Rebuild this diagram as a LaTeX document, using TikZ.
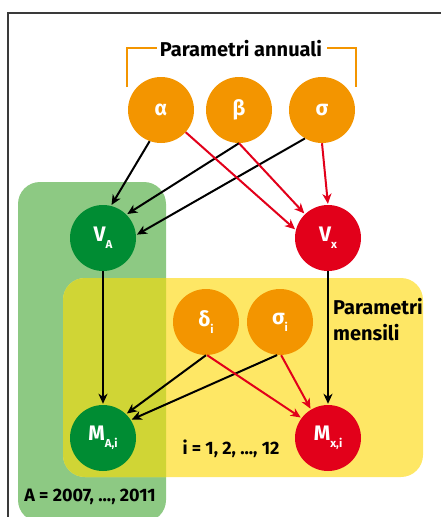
\documentclass[tikz,border=0pt]{standalone}
\usepackage{fontspec}
\setmainfont{Fira Sans}
\usetikzlibrary{arrows.meta}
\definecolor{orng}{HTML}{F39500}
\definecolor{dgreen}{HTML}{008C33}
\definecolor{rred}{HTML}{E2001A}
\definecolor{lgreen}{HTML}{8DC983}
\definecolor{ylw}{HTML}{FEE765}
\definecolor{ovl}{HTML}{D0D535}
\definecolor{framegray}{HTML}{3A3A3A}
\newcommand{\sbs}[1]{\raisebox{-0.6ex}{\fontsize{11.5}{11.5}\selectfont #1}}
\tikzset{
  var/.style={circle, minimum size=66pt, inner sep=0pt, text=white, font=\fontsize{21}{21}\bfseries},
  ora/.style={var, fill=orng},
  grn/.style={var, fill=dgreen},
  red/.style={var, fill=rred},
  blk/.style={line width=2pt, black, -{Stealth[length=10pt,width=9pt,inset=3pt]}, shorten >=1pt},
  rda/.style={line width=2pt, rred, -{Stealth[length=10pt,width=9pt,inset=3pt]}, shorten >=1pt},
  lbl/.style={font=\fontsize{20}{26}\bfseries, inner sep=0pt, text=black},
  rng/.style={lbl, font=\fontsize{18}{24}\bfseries}
}
\begin{document}
\begin{tikzpicture}[x=1pt,y=-1pt]
\useasboundingbox (0,0) rectangle (441,517);
\draw[framegray, line width=1.2pt] (8,13) rectangle (470,540);
% boxes
\fill[lgreen, rounded corners=22pt] (18,182) rectangle (166,522);
\fill[ylw, rounded corners=22pt] (63,278) rectangle (423,477);
\begin{scope}
  \clip[rounded corners=22pt] (18,182) rectangle (166,522);
  \fill[ovl, rounded corners=22pt] (63,278) rectangle (423,477);
\end{scope}
% bracket
\draw[orng, line width=1.8pt] (127,87) -- (127,48) -- (157,48);
\draw[orng, line width=1.8pt] (327,48) -- (356,48) -- (356,87);
\node[lbl] (title) at (241,49) {Parametri annuali};
% nodes
\node[ora] (alpha) at (161,110) {α};
\node[ora] (beta) at (239,110) {β};
\node[ora] (sigma) at (322,110) {σ};
\node[grn] (VA) at (103,238) {V\sbs{A}};
\node[red] (Vx) at (328,238) {V\sbs{x}};
\node[ora] (delta) at (206,322) {δ\sbs{i}};
\node[ora] (sigmai) at (280,322) {σ\sbs{i}};
\node[grn] (MA) at (103,438) {M\sbs{A,i}};
\node[red] (Mx) at (328,438) {M\sbs{x,i}};
% labels
\node[lbl, anchor=west, align=left] (mensili) at (333,320) {Parametri\\mensili};
\node[rng] (irange) at (231,449) {i = 1, 2, ..., 12};
\node[rng] (arange) at (90,497) {A = 2007, ..., 2011};
% arrows
\draw[blk] (alpha.-110) -- (VA.76);
\draw[blk] (beta.-90) -- (VA.45);
\draw[blk] (sigma.-121) -- (VA.5);
\draw[rda] (alpha.-42) -- (Vx.166);
\draw[rda] (beta.-90) -- (Vx.134);
\draw[rda] (sigma.-90) -- (Vx.90);
\draw[blk] (VA) -- (MA);
\draw[blk] (Vx) -- (Mx);
\draw[blk] (delta.-90) -- (MA.46);
\draw[blk] (sigmai.-95) -- (MA.33);
\draw[rda] (delta.-88) -- (Mx.143);
\draw[rda] (sigmai.-88) -- (Mx.121);
\end{tikzpicture}
\end{document}
